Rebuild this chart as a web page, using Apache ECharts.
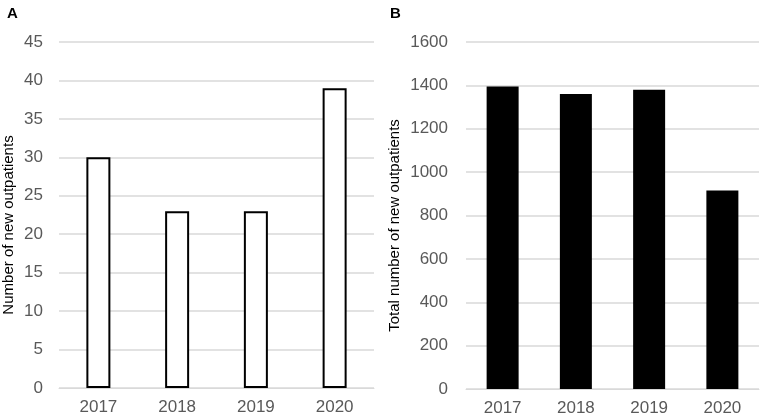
<!DOCTYPE html>
<html>
<head>
    <meta charset="utf-8">
    <title>New outpatients</title>
    <script src="https://cdn.jsdelivr.net/npm/echarts@6/dist/echarts.min.js"></script>
    <style>
        html, body { margin: 0; padding: 0; background: #fff; }
        #chart { width: 765px; height: 420px; }
    </style>
</head>
<body>
<div id="chart"></div>
<script type="text/javascript">
    // data
    var years = ['2017', '2018', '2019', '2020'];
    var newOutpatients = [30, 23, 23, 39];            // panel A
    var totalNewOutpatients = [1395, 1360, 1380, 915]; // panel B
    var ticksA = { min: 0, max: 45, interval: 5 };
    var ticksB = { min: 0, max: 1600, interval: 200 };

    var font = '"Liberation Sans", Arial, sans-serif';
    var tickColor = '#595959';
    var gridColor = '#d9d9d9';

    var myChart = echarts.init(document.getElementById('chart'));

    function xAxisFor(idx) {
        return {
            type: 'category',
            gridIndex: idx,
            data: years,
            axisLine: { show: true, lineStyle: { color: gridColor, width: 1 } },
            axisTick: { show: false },
            axisLabel: { color: tickColor, fontFamily: font, fontSize: 17, margin: 11 }
        };
    }

    function yAxisFor(idx, ticks, name, gap, lblMargin) {
        return {
            type: 'value',
            gridIndex: idx,
            min: ticks.min,
            max: ticks.max,
            interval: ticks.interval,
            name: name,
            nameLocation: 'middle',
            nameGap: gap,
            nameTextStyle: { color: '#000', fontFamily: font, fontSize: 15, padding: [0, 20, 0, 0] },
            axisLine: { show: false },
            axisTick: { show: false },
            axisLabel: {
                color: tickColor, fontFamily: font, fontSize: 17, margin: lblMargin,
                formatter: function (v) { return String(v); }
            },
            splitLine: { show: true, lineStyle: { color: gridColor, width: 1.5 } }
        };
    }

    myChart.setOption({
        animation: false,
        title: [
            { text: 'A', left: 2, top: 1, textStyle: { fontFamily: font, fontSize: 15, fontWeight: 'bold', color: '#000' } },
            { text: 'B', left: 385, top: 1, textStyle: { fontFamily: font, fontSize: 15, fontWeight: 'bold', color: '#000' } }
        ],
        grid: [
            { left: 58, right: 391, top: 42, bottom: 32 },
            { left: 466, right: 6, top: 42, bottom: 31 }
        ],
        xAxis: [xAxisFor(0), xAxisFor(1)],
        yAxis: [
            yAxisFor(0, ticksA, 'Number of new outpatients', 43, 16),
            yAxisFor(1, ticksB, 'Total number of new outpatients', 64, 18)
        ],
        series: [
            {
                name: 'A',
                type: 'bar',
                xAxisIndex: 0,
                yAxisIndex: 0,
                barWidth: 24,
                data: newOutpatients,
                itemStyle: { color: '#fff', borderColor: '#000', borderWidth: 2 }
            },
            {
                name: 'B',
                type: 'bar',
                xAxisIndex: 1,
                yAxisIndex: 1,
                barWidth: 32,
                data: totalNewOutpatients,
                itemStyle: { color: '#000' }
            }
        ]
    });
</script>
</body>
</html>
